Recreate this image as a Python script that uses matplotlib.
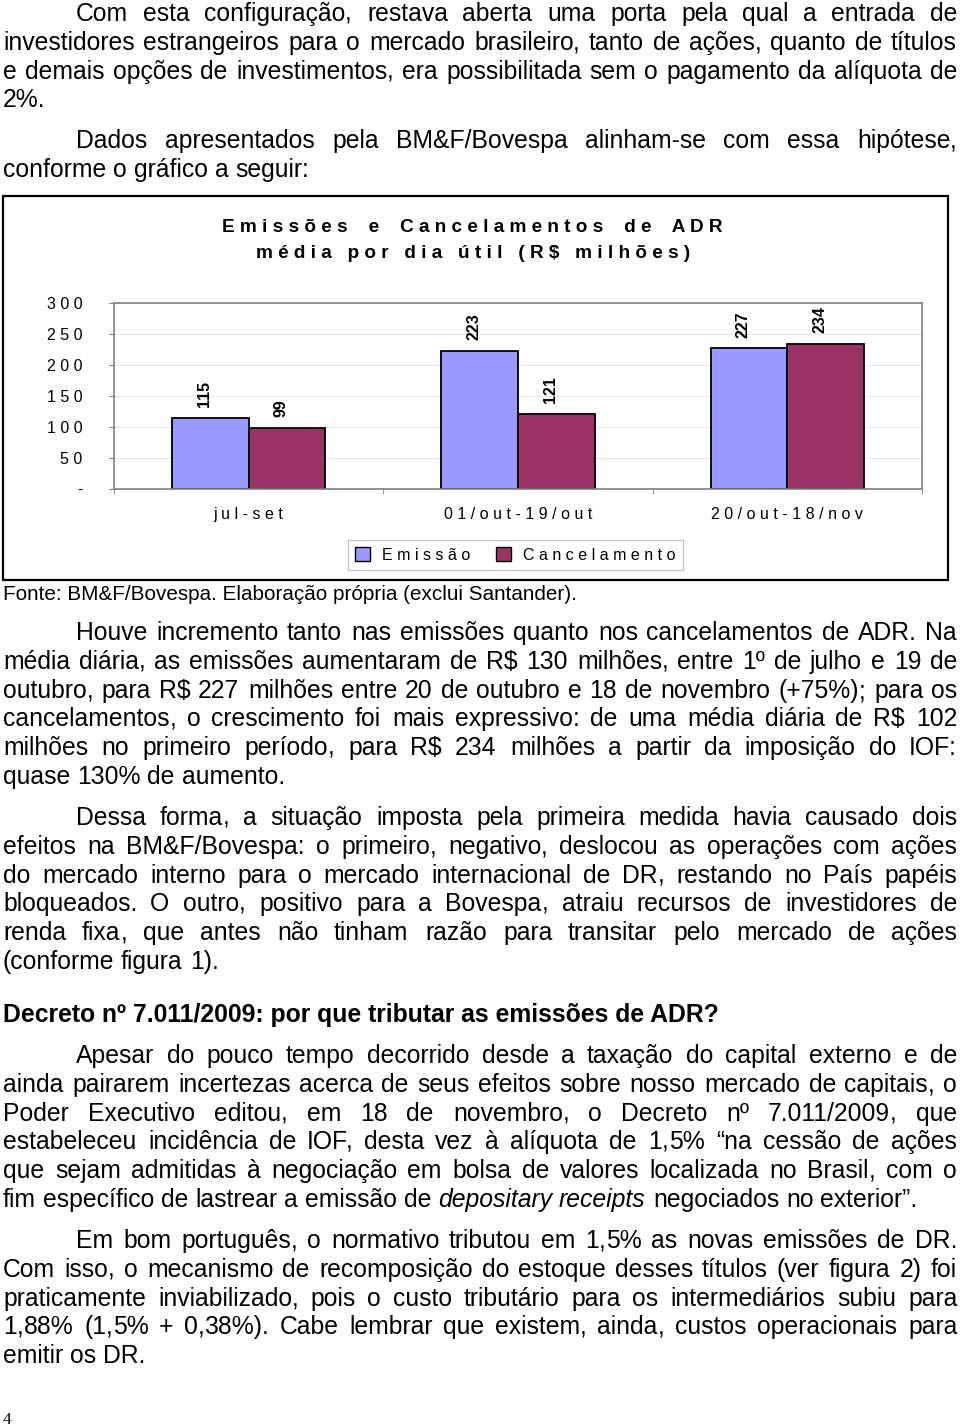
import re
import numpy as np
import matplotlib
matplotlib.use('Agg')
import matplotlib.pyplot as plt
from matplotlib.patches import Rectangle, Patch

plt.rcParams['font.family'] = ['Liberation Sans', 'DejaVu Sans']

# chart data
categories = ['jul-set', '01/out-19/out', '20/out-18/nov']
emissao = [115, 223, 227]
cancelamento = [99, 121, 234]
series_names = ['Emissão', 'Cancelamento']
series_colors = ['#9999FF', '#993366']
y_ticks = [0, 50, 100, 150, 200, 250, 300]
y_tick_labels = ['-', '50', '100', '150', '200', '250', '300']
chart_title = ['Emissões e Cancelamentos de ADR', 'média por dia útil (R$ milhões)']
source_note = 'Fonte: BM&F/Bovespa. Elaboração própria (exclui Santander).'

# page text (line breaks as in the original)
p1 = ["Com esta configuração, restava aberta uma porta pela qual a entrada de",
      "investidores estrangeiros para o mercado brasileiro, tanto de ações, quanto de títulos",
      "e demais opções de investimentos, era possibilitada sem o pagamento da alíquota de",
      "2%."]
p2 = ["Dados apresentados pela BM&F/Bovespa alinham-se com essa hipótese,",
      "conforme o gráfico a seguir:"]
p3 = ["Houve incremento tanto nas emissões quanto nos cancelamentos de ADR. Na",
      "média diária, as emissões aumentaram de R$ 130 milhões, entre 1º de julho e 19 de",
      "outubro, para R$ 227 milhões entre 20 de outubro e 18 de novembro (+75%); para os",
      "cancelamentos, o crescimento foi mais expressivo: de uma média diária de R$ 102",
      "milhões no primeiro período, para R$ 234 milhões a partir da imposição do IOF:",
      "quase 130% de aumento."]
p4 = ["Dessa forma, a situação imposta pela primeira medida havia causado dois",
      "efeitos na BM&F/Bovespa: o primeiro, negativo, deslocou as operações com ações",
      "do mercado interno para o mercado internacional de DR, restando no País papéis",
      "bloqueados. O outro, positivo para a Bovespa, atraiu recursos de investidores de",
      "renda fixa, que antes não tinham razão para transitar pelo mercado de ações",
      "(conforme figura 1)."]
heading = "Decreto nº 7.011/2009: por que tributar as emissões de ADR?"
p5 = ["Apesar do pouco tempo decorrido desde a taxação do capital externo e de",
      "ainda pairarem incertezas acerca de seus efeitos sobre nosso mercado de capitais, o",
      "Poder Executivo editou, em 18 de novembro, o Decreto nº 7.011/2009, que",
      "estabeleceu incidência de IOF, desta vez à alíquota de 1,5% “na cessão de ações",
      "que sejam admitidas à negociação em bolsa de valores localizada no Brasil, com o",
      "fim específico de lastrear a emissão de depositary receipts negociados no exterior”."]
p6 = ["Em bom português, o normativo tributou em 1,5% as novas emissões de DR.",
      "Com isso, o mecanismo de recomposição do estoque desses títulos (ver figura 2) foi",
      "praticamente inviabilizado, pois o custo tributário para os intermediários subiu para",
      "1,88% (1,5% + 0,38%). Cabe lembrar que existem, ainda, custos operacionais para",
      "emitir os DR."]
italic_words = {'depositary', 'receipts'}
page_number = '4'

W, H = 960, 1428
BODY = 17.8
LEFT, RIGHT, INDENT = 3, 957, 76
PITCH = 28.8
paragraphs = [(13, p1), (140, p2), (632, p3), (817, p4), (1055, p5), (1240, p6)]

fig = plt.figure(figsize=(W / 100, H / 100), dpi=100)
page = fig.add_axes([0, 0, 1, 1])
page.set_xlim(0, W)
page.set_ylim(H, 0)
page.axis('off')
renderer = fig.canvas.get_renderer()


def word_width(word, **kw):
    t = page.text(0, 0, word, fontsize=BODY, parse_math=False, **kw)
    w = t.get_window_extent(renderer).width
    t.remove()
    return w


SPACE = 0.278 * BODY * 100 / 72


def draw_word(x, yb, word, style):
    # commas and semicolons go in their own text: their descent makes Agg
    # snap a whole word one pixel off the line
    parts = [p for p in re.split(r'([,;])', word) if p]
    done = ''
    for p in parts:
        done += p
        px = x + (word_width(done, style=style) - word_width(p, style=style)
                  if len(done) > len(p) else 0)
        page.text(round(px), yb, p, fontsize=BODY, style=style, ha='left',
                  va='baseline', parse_math=False)


def draw_line(yb, text, x0, justify):
    words = text.split()
    styles = ['italic' if w in italic_words else 'normal' for w in words]
    widths = [word_width(w, style=s) for w, s in zip(words, styles)]
    gap = SPACE
    if justify and len(words) > 1:
        gap = (RIGHT - x0 - sum(widths)) / (len(words) - 1)
    x = x0
    for w, s, wd in zip(words, styles, widths):
        draw_word(x, yb, w, s)
        x += wd + gap


def draw_paragraph(y0, lines):
    for i, line in enumerate(lines):
        x0 = INDENT if i == 0 else LEFT
        yb = round(y0 + i * PITCH + 8)
        draw_line(yb, line, x0, i < len(lines) - 1)


for y0, lines in paragraphs:
    draw_paragraph(y0, lines)
page.text(LEFT, 1022, heading, fontsize=BODY, fontweight='bold', va='baseline')
page.text(LEFT, 600, source_note, fontsize=14.9, va='baseline', parse_math=False)
page.text(LEFT, 1424, page_number, fontsize=12.5, family='Liberation Serif', va='baseline')

# chart frame
page.add_patch(Rectangle((3, 196), 945, 384, fill=False, edgecolor='black', lw=1.6))


def spaced(s, sep='   '):
    return sep.join(' '.join(w) for w in s.split(' '))


page.text(472, 227, spaced(chart_title[0], '    '), ha='center', va='center',
          fontsize=13.7, fontweight='bold', parse_math=False)
page.text(473, 253, spaced(chart_title[1]), ha='center', va='center',
          fontsize=13.7, fontweight='bold', parse_math=False)

# bar chart
ax = fig.add_axes([114 / W, 1 - 489 / H, (922 - 114) / W, (489 - 303) / H])
ax.set_facecolor('none')
x = np.arange(len(categories))
bw = 0.285
for off, vals, name, col in [(-bw / 2, emissao, series_names[0], series_colors[0]),
                             (bw / 2, cancelamento, series_names[1], series_colors[1])]:
    bars = ax.bar(x + off, vals, bw, color=col, edgecolor='black', linewidth=1.3, label=name)
    for b, v in zip(bars, vals):
        ax.annotate(str(v), (b.get_x() + b.get_width() / 2, v), xytext=(-4, 7.7),
                    textcoords='offset points', rotation=90, ha='center', va='bottom',
                    fontsize=11.5, fontweight='bold')

ax.set_xlim(-0.5, 2.5)
ax.set_ylim(0, 300)
ax.set_yticks(y_ticks)
ax.set_yticklabels([spaced(t) for t in y_tick_labels], fontsize=11.5)
ax.set_xticks(x)
ax.set_xticklabels([spaced(c) for c in categories], fontsize=11.5)
ax.set_xticks([-0.5, 0.5, 1.5, 2.5], minor=True)
ax.tick_params(axis='x', which='major', length=0, pad=13)
ax.tick_params(axis='x', which='minor', length=3.5, color='#808080')
ax.tick_params(axis='y', length=3.5, color='#808080', pad=19)
for sp in ax.spines.values():
    sp.set_color('#808080')
    sp.set_linewidth(1.2)
ax.yaxis.grid(True, color='#E6E6E6', lw=0.8)
ax.set_axisbelow(True)

handles = [Patch(facecolor=c, edgecolor='black', lw=1) for c in series_colors]
leg = fig.legend(handles, [spaced(n) for n in series_names], loc='center',
                 bbox_to_anchor=(515.5 / W, 1 - 555 / H), ncol=2, fontsize=11.5,
                 frameon=True, fancybox=False, edgecolor='#B0B0B0',
                 handlelength=0.9, handleheight=0.9, handletextpad=0.8,
                 columnspacing=1.6, borderpad=0.45)
leg.get_frame().set_linewidth(0.8)

fig.savefig('out.png', dpi=100)
